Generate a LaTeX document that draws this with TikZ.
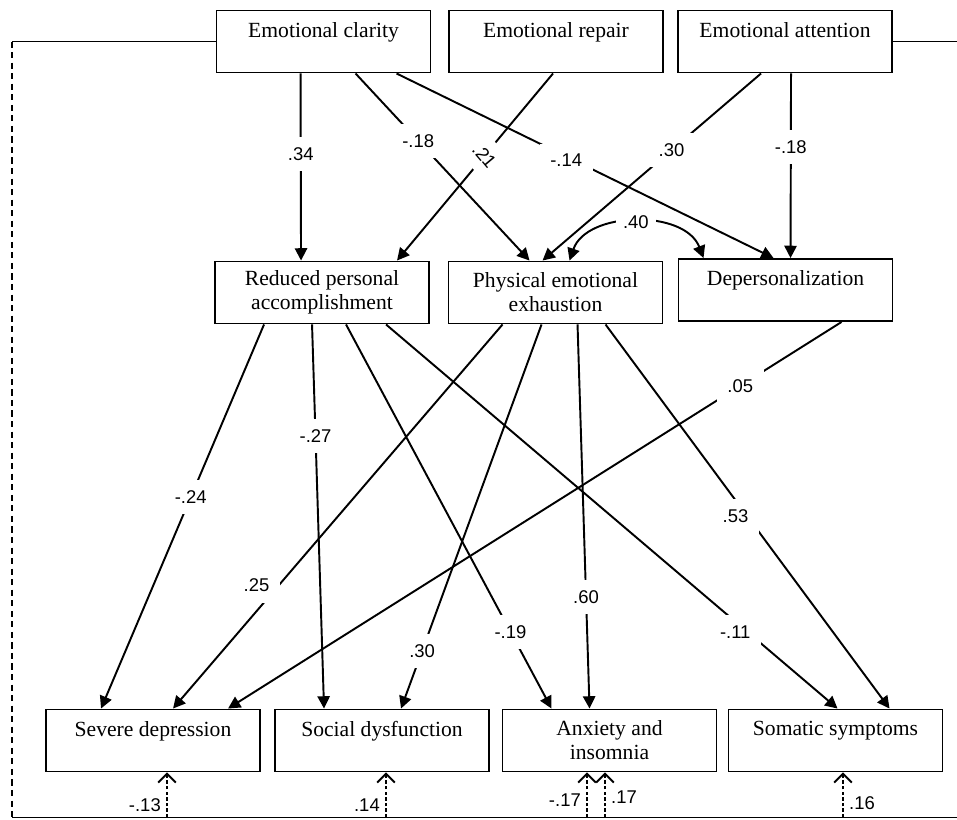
\documentclass[tikz,border=0pt]{standalone}
\usepackage{fontspec}
\setmainfont{Liberation Serif}
\newfontfamily\coeffont{Liberation Sans}
\usetikzlibrary{arrows.meta}
\newdimen\pxu
\pxu=0.02cm

\begin{document}
\begin{tikzpicture}[x=0.02cm, y=-0.02cm,
	varbox/.style={draw, line width=1.1pt, minimum width=214\pxu, minimum height=62\pxu,
		align=center, inner sep=2pt, font=\fontsize{12.3}{13.6}\selectfont},
	effect/.style={line width=1.1pt, -{Triangle[length=7pt,width=7pt]}},
	corr/.style={line width=1.1pt, {Triangle[length=7pt,width=7pt]}-{Triangle[length=7pt,width=7pt]}},
	coef/.style={fill=white, inner sep=6pt, font=\coeffont\fontsize{10.5}{12}\selectfont},
	errpath/.style={line width=1.1pt, dash pattern=on 2pt off 1.2pt, -{Straight Barb[length=5pt,width=10pt]}},
	errlbl/.style={inner sep=3pt, font=\coeffont\fontsize{10.5}{12}\selectfont},
	framepath/.style={line width=1.1pt}]
	\useasboundingbox (0,0) rectangle (957,819);

	% emotional intelligence
	\node[varbox] (clar) at (323.5,41.5) {Emotional clarity\\\mbox{}};
	\node[varbox] (rep) at (556,41.5) {Emotional repair\\\mbox{}};
	\node[varbox] (att) at (785,41.5) {Emotional attention\\\mbox{}};

	% burnout
	\node[varbox] (red) at (322,292.5) {Reduced personal\\accomplishment};
	\node[varbox] (phys) at (555.5,292.5) {Physical emotional\\exhaustion};
	\node[varbox] (dep) at (785.5,290) {Depersonalization\\\mbox{}};

	% health
	\node[varbox] (sev) at (153,740.5) {Severe depression\\\mbox{}};
	\node[varbox] (soc) at (382,740.5) {Social dysfunction\\\mbox{}};
	\node[varbox] (anx) at (609.5,740.5) {Anxiety and\\insomnia};
	\node[varbox] (som) at (835.5,740.5) {Somatic symptoms\\\mbox{}};

	% top row -> burnout
	\draw[effect] ([xshift=85\pxu]clar.south west) -- node[coef, pos=.43]{.34} ([xshift=87\pxu]red.north west);
	\draw[effect] ([xshift=140\pxu]clar.south west) -- node[coef, pos=.36]{-.18} ([xshift=82\pxu]phys.north west);
	\draw[effect] ([xshift=181\pxu]clar.south west) -- node[coef, pos=.45, yshift=-4\pxu]{-.14} ([xshift=96\pxu]dep.north west);
	\draw[effect] ([xshift=105\pxu]rep.south west) -- node[coef, pos=.44, rotate=-50]{.21} ([xshift=183\pxu]red.north west);
	\draw[effect] ([xshift=84\pxu]att.south west) -- node[coef, pos=.41]{.30} ([xshift=95\pxu]phys.north west);
	\draw[effect] ([xshift=114\pxu]att.south west) -- node[coef, pos=.40]{-.18} ([xshift=113\pxu]dep.north west);
	\draw[corr] ([xshift=122\pxu]phys.north west) to[bend left=70] node[coef, inner sep=4pt]{.40} ([xshift=26\pxu]dep.north west);

	% burnout -> health
	\draw[effect] ([xshift=50\pxu]red.south west) -- node[coef, pos=.45]{-.24} ([xshift=56\pxu]sev.north west);
	\draw[effect] ([xshift=98\pxu]red.south west) -- node[coef, pos=.29]{-.27} ([xshift=50\pxu]soc.north west);
	\draw[effect] ([xshift=132\pxu]red.south west) -- node[coef, pos=.80]{-.19} ([xshift=50\pxu]anx.north west);
	\draw[effect] ([xshift=172\pxu]red.south west) -- node[coef, pos=.80, xshift=-12\pxu]{-.11} ([xshift=110\pxu]som.north west);
	\draw[effect] ([xshift=55\pxu]phys.south west) -- node[coef, pos=.68, xshift=-22\pxu]{.25} ([xshift=128\pxu]sev.north west);
	\draw[effect] ([xshift=94\pxu]phys.south west) -- node[coef, pos=.85]{.30} ([xshift=127\pxu]soc.north west);
	\draw[effect] ([xshift=130\pxu]phys.south west) -- node[coef, pos=.71]{.60} ([xshift=88\pxu]anx.north west);
	\draw[effect] ([xshift=158\pxu]phys.south west) -- node[coef, pos=.50, xshift=-12\pxu]{.53} ([xshift=162\pxu]som.north west);
	\draw[effect] ([xshift=164\pxu]dep.south west) -- node[coef, pos=.165]{.05} ([xshift=183\pxu]sev.north west);

	% outer frame
	\coordinate (tl) at (12,41.5);
	\coordinate (bl) at (12,817.5);
	\coordinate (br) at (957,817.5);
	\coordinate (tr) at (957,41.5);
	\draw[framepath] (clar.west) -- (tl);
	\draw[framepath, dash pattern=on 3.5pt off 2.5pt] (tl) -- (bl);
	\draw[framepath] (bl) -- (br);
	\draw[framepath] (att.east) -- (tr);

	% residual paths
	\coordinate (esev) at (167,817.5);
	\coordinate (esoc) at (386,817.5);
	\coordinate (eanxa) at (587,817.5);
	\coordinate (eanxb) at (605,817.5);
	\coordinate (esom) at (843,817.5);
	\draw[errpath] (esev) -- node[errlbl, pos=.27, left]{-.13} (esev |- sev.south);
	\draw[errpath] (esoc) -- node[errlbl, pos=.27, left]{.14} (esoc |- soc.south);
	\draw[errpath] (eanxa) -- node[errlbl, pos=.38, left]{-.17} (eanxa |- anx.south);
	\draw[errpath] (eanxb) -- node[errlbl, pos=.45, right]{.17} (eanxb |- anx.south);
	\draw[errpath] (esom) -- node[errlbl, pos=.32, right]{.16} (esom |- som.south);
\end{tikzpicture}
\end{document}
